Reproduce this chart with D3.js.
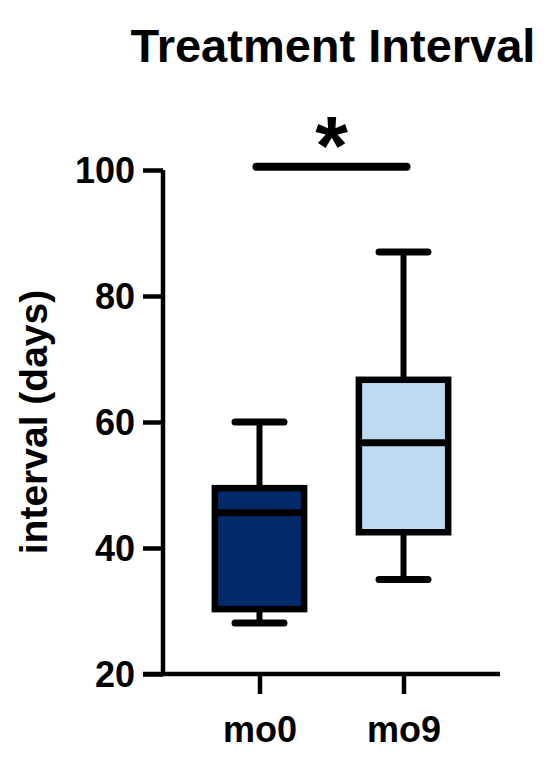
<!DOCTYPE html>
<html>
<head>
<meta charset="utf-8">
<script src="https://cdn.jsdelivr.net/npm/d3@7"></script>
<style>
  body { margin: 0; background: #fff; }
  svg { display: block; font-family: "Liberation Sans", Arial, sans-serif; font-weight: bold; }
</style>
</head>
<body>
<div id="chart"></div>
<script>
const width = 550;
const height = 758;

// box plot summary values (days)
const groups = ["mo0", "mo9"];
const mins = [28.1, 35];
const q1s = [30.3, 42.5];
const medians = [45.6, 56.7];
const q3s = [49.5, 66.7];
const maxs = [60, 87];
const fills = ["#022a6b", "#bddaf0"];
const yTicks = [20, 40, 60, 80, 100];

const boxes = groups.map((g, i) => ({
    group: g, min: mins[i], q1: q1s[i], median: medians[i],
    q3: q3s[i], max: maxs[i], fill: fills[i]
}));

const x = d3.scalePoint()
    .domain(groups)
    .range([163, 500])
    .padding(0.67);

const y = d3.scaleLinear()
    .domain([20, 100])
    .range([674, 170]);

const step = x.step();
const boxW = step * 0.62;
const capW = step * 0.34;

const svg = d3.select("#chart")
    .append("svg")
    .attr("width", width)
    .attr("height", height);

// title
svg.append("text")
    .attr("x", 333)
    .attr("y", 62)
    .attr("text-anchor", "middle")
    .attr("font-size", 47)
    .text("Treatment Interval");

// y axis
const yAxis = svg.append("g")
    .attr("transform", "translate(163,0)")
    .call(d3.axisLeft(y).tickValues(yTicks).tickSize(20).tickPadding(8));
yAxis.select(".domain")
    .attr("d", `M0,${y(100)}V${y(20)}`);

// x axis
const xAxis = svg.append("g")
    .attr("transform", "translate(0,674)")
    .call(d3.axisBottom(x).tickSize(20).tickPadding(22));
xAxis.select(".domain")
    .attr("d", `M143,0H500`);

svg.selectAll(".domain, .tick line")
    .attr("stroke", "#000")
    .attr("stroke-width", 4.5);
svg.selectAll(".tick text")
    .attr("fill", "#000")
    .attr("font-size", 36)
    .attr("font-family", "Liberation Sans, Arial, sans-serif")
    .attr("font-weight", "bold");
yAxis.selectAll(".tick text").attr("dy", "0.36em");
xAxis.selectAll(".tick text").attr("dy", "0.71em");

// y label
svg.append("text")
    .attr("transform", `translate(47,${(y(20) + y(100)) / 2}) rotate(-90)`)
    .attr("text-anchor", "middle")
    .attr("font-size", 39)
    .text("interval (days)");

// boxes
const g = svg.append("g")
    .selectAll("g")
    .data(boxes)
    .join("g")
    .attr("transform", d => `translate(${x(d.group)},0)`);

g.append("line")
    .attr("y1", d => y(d.max))
    .attr("y2", d => y(d.q3))
    .attr("stroke", "#000")
    .attr("stroke-width", 6);

g.append("line")
    .attr("y1", d => y(d.q1))
    .attr("y2", d => y(d.min))
    .attr("stroke", "#000")
    .attr("stroke-width", 6);

g.selectAll(".cap")
    .data(d => [d.max, d.min])
    .join("line")
    .attr("class", "cap")
    .attr("x1", -capW / 2)
    .attr("x2", capW / 2)
    .attr("y1", v => y(v))
    .attr("y2", v => y(v))
    .attr("stroke", "#000")
    .attr("stroke-width", 7)
    .attr("stroke-linecap", "round");

g.append("rect")
    .attr("x", -boxW / 2)
    .attr("width", boxW)
    .attr("y", d => y(d.q3))
    .attr("height", d => y(d.q1) - y(d.q3))
    .attr("fill", d => d.fill)
    .attr("stroke", "#000")
    .attr("stroke-width", 6.5);

g.append("line")
    .attr("x1", -boxW / 2)
    .attr("x2", boxW / 2)
    .attr("y1", d => y(d.median))
    .attr("y2", d => y(d.median))
    .attr("stroke", "#000")
    .attr("stroke-width", 7);

// significance bar
const sigY = y(100.5);
svg.append("line")
    .attr("x1", x("mo0") - 3)
    .attr("x2", x("mo9") + 3)
    .attr("y1", sigY)
    .attr("y2", sigY)
    .attr("stroke", "#000")
    .attr("stroke-width", 8)
    .attr("stroke-linecap", "round");

svg.append("text")
    .attr("x", (x("mo0") + x("mo9")) / 2)
    .attr("y", sigY + 8)
    .attr("text-anchor", "middle")
    .attr("font-size", 84)
    .text("*");
</script>
</body>
</html>
